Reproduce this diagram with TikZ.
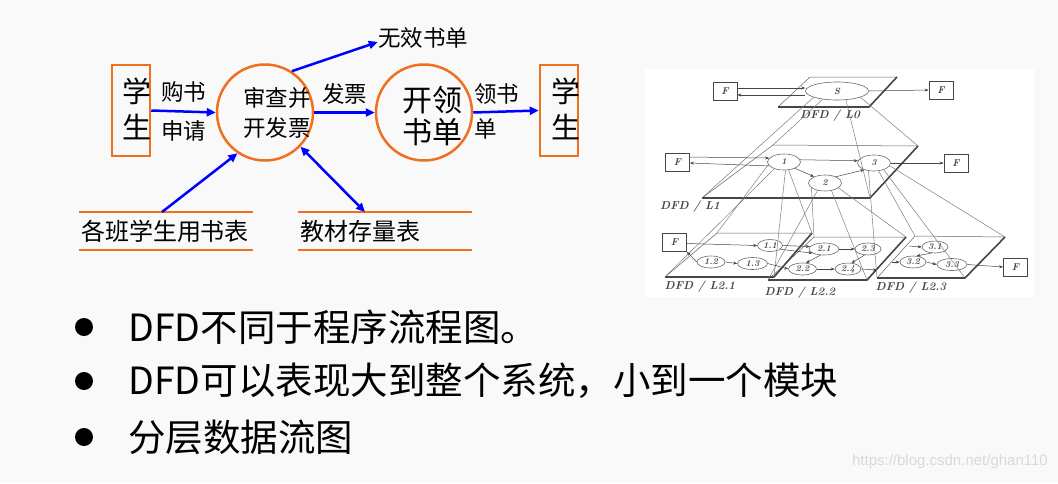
\documentclass[tikz,border=0pt]{standalone}
\usepackage{fontspec}
\newfontfamily\cjk{Noto Sans CJK SC}
\newfontfamily\wmfont{Liberation Sans}
\usetikzlibrary{shapes.geometric,arrows.meta}
\definecolor{ppto}{RGB}{240,112,32}
\definecolor{pptb}{RGB}{0,0,255}
\definecolor{pagebg}{RGB}{249,249,249}
\definecolor{scan}{RGB}{70,70,70}

\tikzset{
  ent/.style={draw=ppto, line width=2.5pt, minimum width=38pt, minimum height=91pt, inner sep=0},
  proc/.style={draw=ppto, line width=2.5pt, circle, minimum size=96pt, inner sep=0},
  flow/.style={draw=pptb, line width=2.5pt, -{Triangle[length=9pt,width=8pt]}},
  dflow/.style={draw=pptb, line width=2.5pt, {Triangle[length=9pt,width=8pt]}-{Triangle[length=9pt,width=8pt]}},
  store/.style={draw=ppto, line width=2.5pt},
  lbl/.style={font=\cjk\fontsize{22.5}{35}\selectfont, inner sep=0},
  slbl/.style={font=\cjk\fontsize{24}{28}\selectfont, inner sep=0},
  big/.style={font=\cjk\fontsize{29}{36.5}\selectfont, inner sep=0, align=center},
  fbox/.style={draw=scan, line width=0.7pt, minimum width=24pt, minimum height=18pt, inner sep=0, text=scan, font=\bfseries\itshape\fontsize{10}{10}\selectfont},
  bub/.style={ellipse, draw=scan!80, line width=0.6pt, inner sep=0, text=scan, font=\bfseries\itshape\fontsize{9}{9}\selectfont},
  sflow/.style={draw=scan, line width=0.5pt, -{Stealth[length=4pt,width=3pt]}},
  plane/.style={draw=scan!85, line width=0.5pt},
  pedge/.style={draw=scan, line width=1.6pt},
  proj/.style={draw=scan!75, line width=0.45pt},
  dfd/.style={text=scan, inner sep=0, font=\bfseries\itshape\fontsize{11.5}{11.5}\selectfont},
  bul/.style={font=\cjk\fontsize{37.5}{40}\selectfont, inner sep=0, anchor=west}
}

\begin{document}
\begin{tikzpicture}[x=1pt,y=-1pt]
    \fill[pagebg] (0,0) rectangle (1058,483);
    \useasboundingbox (0,0) rectangle (1058,483);
    \fill[white] (645,69) rectangle (1034,297);

    % left: book issue DFD
    \node[ent] (stu1) at (131,110.5) {};
    \node[big] (stut1) at (137,109) {学\\生};
    \node[ent] (stu2) at (559,110.5) {};
    \node[big] (stut2) at (566,109) {学\\生};

    \node[proc] (chk) at (265,112.5) {};
    \node[lbl, align=center, font=\cjk\fontsize{22.5}{30}\selectfont] (chkt) at (277,113) {审查并\\开发票};
    \node[proc] (iss) at (424,112.5) {};
    \node[big, font=\cjk\fontsize{30}{32}\selectfont] (isst) at (432,116) {开领\\书单};

    \node[lbl] (void) at (423,38) {无效书单};

    \draw[flow] (stu1.east) -- node[lbl, above=8pt] {购书} node[lbl, below=8pt] {申请} (chk.west);
    \draw[flow] (chk.east) -- node[lbl, above=7pt] {发票} (iss.west);
    \draw[flow] (iss.east) -- (stu2.west);
    \node[lbl, align=left, anchor=west] (getb) at (474,111) {领书\\单};
    \draw[flow] (chk.57) -- ([yshift=-4pt]void.west);

    \node[slbl] (st1) at (165,231) {各班学生用书表};
    \node[slbl] (st2) at (360,231) {教材存量表};
    \draw[store] (79,212) -- (253,212);
    \draw[store] (79,250) -- (253,250);
    \draw[store] (298,212) -- (472,212);
    \draw[store] (298,250) -- (472,250);
    \coordinate (st1n) at (162,212);
    \coordinate (st2n) at (365,212);
    \draw[flow] (st1n) -- (chk.236);
    \draw[dflow] (st2n) -- (chk.-44);

    % right: layered DFD
    \coordinate (p0a) at (810,77);  \coordinate (p0b) at (897,77);
    \coordinate (p0c) at (869,107); \coordinate (p0d) at (778,107);
    \coordinate (p1a) at (773,145); \coordinate (p1b) at (918,146);
    \coordinate (p1c) at (870,198); \coordinate (p1d) at (702,198);
    \coordinate (q1a) at (717,233); \coordinate (q1b) at (812,233);
    \coordinate (q1c) at (774,277); \coordinate (q1d) at (665,277);
    \coordinate (q2a) at (814,237); \coordinate (q2b) at (906,237);
    \coordinate (q2c) at (867,280); \coordinate (q2d) at (768,280);
    \coordinate (q3a) at (915,236); \coordinate (q3b) at (1005,237);
    \coordinate (q3c) at (965,278); \coordinate (q3d) at (877,278);

    \draw[plane] (p0d) -- (p0a) -- (p0b);
    \draw[pedge] (p0b) -- (p0c) -- (p0d);
    \draw[plane] (p1d) -- (p1a) -- (p1b);
    \draw[pedge] (p1b) -- (p1c) -- (p1d);
    \draw[plane] (q2d) -- (q2a) -- (q2b);
    \draw[pedge] (q2b) -- (q2c) -- (q2d);
    \draw[plane] (q1d) -- (q1a) -- (q1b);
    \draw[pedge] (q1b) -- (q1c) -- (q1d);
    \draw[plane] (q3d) -- (q3a) -- (q3b);
    \draw[pedge] (q3b) -- (q3c) -- (q3d);

    \node[fbox] (f0a) at (725,91) {F};
    \node[bub, minimum width=63pt, minimum height=18pt] (s0) at (837,91) {S};
    \node[fbox] (f0b) at (941,90) {F};
    \node[dfd] (l0) at (830,116) {DFD / L0};

    \node[fbox] (f1a) at (677.5,162) {F};
    \node[bub, minimum width=33pt, minimum height=16pt] (b1) at (784,162) {1};
    \node[bub, minimum width=33pt, minimum height=16pt] (b2) at (825,183) {2};
    \node[bub, minimum width=33pt, minimum height=16pt] (b3) at (874,163) {3};
    \node[fbox] (f1b) at (956,163) {F};
    \node[dfd] (l1) at (690,207) {DFD / L1};

    \node[fbox] (f2a) at (674.5,242.5) {F};
    \node[bub, minimum width=25pt, minimum height=12pt] (b11) at (770,245.5) {1.1};
    \node[bub, minimum width=28pt, minimum height=12pt] (b12) at (711,262) {1.2};
    \node[bub, minimum width=30pt, minimum height=12pt] (b13) at (752.5,263.5) {1.3};
    \node[bub, minimum width=30pt, minimum height=12pt] (b21) at (824,249) {2.1};
    \node[bub, minimum width=26pt, minimum height=12pt] (b23) at (868,249) {2.3};
    \node[bub, minimum width=28pt, minimum height=12pt] (b22) at (802.5,269) {2.2};
    \node[bub, minimum width=26pt, minimum height=12pt] (b24) at (848,269) {2.4};
    \node[bub, minimum width=26pt, minimum height=12pt] (b31) at (935,247) {3.1};
    \node[bub, minimum width=26pt, minimum height=12pt] (b32) at (913,262) {3.2};
    \node[bub, minimum width=30pt, minimum height=12pt] (b33) at (952,264.5) {3.3};
    \node[fbox] (f2b) at (1015.5,267) {F};
    \node[dfd] (l21) at (700,287) {DFD / L2.1};
    \node[dfd] (l22) at (800,293) {DFD / L2.2};
    \node[dfd] (l23) at (911,288) {DFD / L2.3};

    % projections between levels
    \draw[proj] (s0.195) -- (p1d);
    \draw[proj] (s0.210) -- (p1a);
    \draw[proj] (s0.-15) -- (p1b);
    \draw[proj] (s0.-45) -- (p1c);
    \draw[proj] (b1.190) -- (q1a);
    \draw[proj] (b1.215) -- (q1d);
    \draw[proj] (b1.-60) -- (q1b);
    \draw[proj] (b1.-80) -- (q1c);
    \draw[proj] (b2.200) -- (q2a);
    \draw[proj] (b2.225) -- (q2d);
    \draw[proj] (b2.-20) -- (q2b);
    \draw[proj] (b2.-50) -- (q2c);
    \draw[proj] (b3.235) -- (q3d);
    \draw[proj] (b3.-60) -- (q3a);
    \draw[proj] (b3.-10) -- (q3b);
    \draw[proj] (b3.-35) -- (q3c);

    % flows
    \draw[sflow] ([yshift=3pt]f0a.east) -- ([yshift=3pt]s0.west);
    \draw[sflow] ([yshift=-4pt]s0.west) -- ([yshift=-4pt]f0a.east);
    \draw[sflow] (s0.east) -- (f0b.west);
    \draw[sflow] ([yshift=5pt]f1a.east) -- (b1.165);
    \draw[sflow] (b1.195) -- ([yshift=-1pt]f1a.east);
    \draw[sflow] (b1.8) -- (b3.172);
    \draw[sflow] (b1.-30) -- (b2.150);
    \draw[sflow] (b2.30) -- (b3.215);
    \draw[sflow] (b3.east) -- (f1b.west);

    \draw[sflow] ([yshift=-1pt]f2a.east) -- (b11.west);
    \draw[sflow] (b12.west) -- (f2a.south east);
    \draw[sflow] (b12.east) -- (b13.west);
    \draw[sflow] (b11.east) -- (b21.170);
    \draw[sflow] (b11.-20) -- (b21.200);
    \draw[sflow] (b13.east) -- (b22.west);
    \draw[sflow] (b21.east) -- (b23.west);
    \draw[sflow] (b21.240) -- (b22.60);
    \draw[sflow] (b22.east) -- (b24.west);
    \draw[sflow] (b23.240) -- (b24.60);
    \coordinate (out24) at (877,270);
    \draw[sflow] (b24.east) -- (out24);
    \coordinate (in31) at (909,246);
    \coordinate (in32) at (892,262);
    \draw[sflow] (in31) -- (b31.west);
    \draw[sflow] (in32) -- (b32.west);
    \draw[sflow] (b31.240) -- (b32.60);
    \draw[sflow] (b32.east) -- (b33.west);
    \draw[sflow] (b33.east) -- (f2b.west);

    % bullets
    \foreach \y/\t in {327/{DFD不同于程序流程图。}, 381/{DFD可以表现大到整个系统，小到一个模块}, 437/{分层数据流图}} {
        \fill (84,\y) circle (9);
        \node[bul] (item\y) at (128,\y) {\t};
    }

    \node[anchor=east, text=black!15, inner sep=0, font=\wmfont\fontsize{15}{15}\selectfont] (wmark) at (1048,462) {https://blog.csdn.net/ghan110};
\end{tikzpicture}
\end{document}
